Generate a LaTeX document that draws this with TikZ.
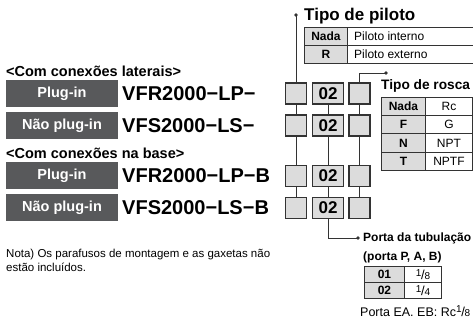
\documentclass[tikz,border=0pt]{standalone}
\usepackage{fontspec}
\setmainfont{Liberation Sans}
\definecolor{dk}{HTML}{58595B}
\definecolor{ln}{HTML}{333333}
\definecolor{bx}{HTML}{DCDCDC}
\definecolor{cg}{HTML}{DCDCDC}
\newcommand\fsz[1]{\fontsize{#1}{#1}\selectfont}
\newcommand\nfr[2]{\raisebox{.55ex}{\fsz{10}#1}\kern-.02em{\fsz{13}/}\kern-.02em{\fsz{10}#2}}
\begin{document}
\begin{tikzpicture}[x=1pt,y=-1pt,
  darkbox/.style={fill=dk,text=white,font=\bfseries\fsz{14.5},minimum width=112pt,minimum height=27pt,inner sep=0},
  model/.style={anchor=west,inner sep=0,font=\bfseries\fsz{20}},
  head/.style={anchor=west,inner sep=0,font=\bfseries\fsz{14.5}},
  selA/.style={draw=ln,fill=bx,line width=1.1pt,minimum width=21pt,minimum height=21pt,inner sep=0},
  selB/.style={selA,minimum width=31pt,font=\bfseries\fsz{17}},
  conn/.style={draw=ln,line width=0.9pt},
  jdot/.style={circle,fill=ln,inner sep=0,minimum size=3.6pt},
  cellg/.style={draw=ln,fill=cg,line width=0.9pt,inner sep=0,anchor=north west,font=\bfseries\fsz{12}},
  cellw/.style={draw=ln,fill=white,line width=0.9pt,inner sep=0,anchor=north west,font=\fsz{12}},
  txt/.style={anchor=west,inner sep=0}
]
\useasboundingbox (0,0) rectangle (473,320);

% left labels
\node[head] (h1) at (6,71) {<Com conexões laterais>};
\node[head] (h2) at (6,153) {<Com conexões na base>};
\node[darkbox] (d1) at (62,93.5) {Plug-in};
\node[darkbox] (d2) at (62,125.5) {Não plug-in};
\node[darkbox] (d3) at (62,175.5) {Plug-in};
\node[darkbox] (d4) at (62,207.5) {Não plug-in};
\node[model] (m1) at (122,93.5) {VFR2000−LP−};
\node[model] (m2) at (122,125.5) {VFS2000−LS−};
\node[model] (m3) at (122,176) {VFR2000−LP−B};
\node[model] (m4) at (122,208) {VFS2000−LS−B};

% selection boxes
\foreach \i/\y in {1/93.5,2/125.5,3/176,4/208}{
  \node[selA] (a\i) at (296,\y) {};
  \node[selB] (b\i) at (328,\y) {02};
  \node[selA] (c\i) at (359.5,\y) {};
}

% connectors
\node[jdot] (pdot) at (296,15) {};
\node[jdot] (rdot) at (386,73) {};
\node[jdot] (tdot) at (358,238) {};
\draw[conn] (pdot.center) -- (a1.north);
\draw[conn] (a1) -- (a2);
\draw[conn] (a2) -- (a3);
\draw[conn] (a3) -- (a4);
\draw[conn] (rdot.center) -| (c1.north);
\draw[conn] (c1) -- (c2);
\draw[conn] (c2) -- (c3);
\draw[conn] (c3) -- (c4);
\draw[conn] (b1) -- (b2);
\draw[conn] (b2) -- (b3);
\draw[conn] (b3) -- (b4);
\draw[conn] (b4.south) |- (tdot.center);

% Tipo de piloto
\node[txt,font=\bfseries\fsz{17}] (tp) at (304,16) {Tipo de piloto};
\node[cellg,minimum width=43pt,minimum height=18pt] (pn) at (304,27) {Nada};
\node[cellw,minimum width=130pt,minimum height=18pt] (pi) at (347,27) {};
\node[txt,font=\fsz{12}] (pit) at ([xshift=7pt]pi.west) {Piloto interno};
\node[cellg,minimum width=43pt,minimum height=18pt] (pr) at (304,45) {R};
\node[cellw,minimum width=130pt,minimum height=18pt] (pe) at (347,45) {};
\node[txt,font=\fsz{12}] (pet) at ([xshift=7pt]pe.west) {Piloto externo};

% Tipo de rosca
\node[txt,font=\bfseries\fsz{13.7}] (tr) at (381,86) {Tipo de rosca};
\foreach \k/\y/\a/\b in {1/97/Nada/Rc,2/115.25/F/G,3/133.5/N/NPT,4/151.75/T/NPTF}{
  \node[cellg,minimum width=44pt,minimum height=18.25pt] (ra\k) at (381,\y) {\a};
  \node[cellw,minimum width=47pt,minimum height=18.25pt] (rb\k) at (425,\y) {\b};
}

% Porta da tubulacao
\node[txt,font=\bfseries\fsz{12}] (tt) at (363,238) {Porta da tubulação};
\node[txt,font=\bfseries\fsz{12}] (tt2) at (363,257) {(porta P, A, B)};
\node[cellg,minimum width=40pt,minimum height=16pt] (ta1) at (364,266) {01};
\node[cellw,minimum width=37pt,minimum height=16pt] (tb1) at (404,266) {\nfr{1}{8}};
\node[cellg,minimum width=40pt,minimum height=16pt] (ta2) at (364,282) {02};
\node[cellw,minimum width=37pt,minimum height=16pt] (tb2) at (404,282) {\nfr{1}{4}};
\node[txt,font=\fsz{12.5}] (ea) at (360,311) {Porta EA. EB: Rc\nfr{1}{8}};

% Nota
\node[txt,font=\fontsize{11.5}{14}\selectfont,align=left] (nota) at (6,260) {Nota) Os parafusos de montagem e as gaxetas não\\estão incluídos.};
\end{tikzpicture}
\end{document}
